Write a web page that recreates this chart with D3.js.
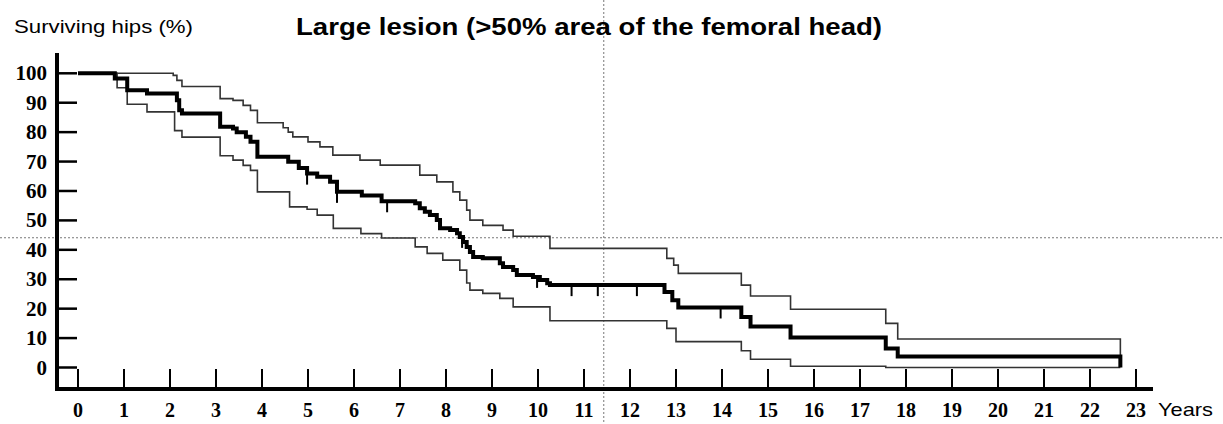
<!DOCTYPE html>
<html>
  <head>
    <meta charset="utf-8">
    <title>Large lesion survival</title>
    <script src="https://d3js.org/d3.v7.min.js"></script>
    <style>
      body { margin: 0; background: #fff; }
      svg { display: block; }
    </style>
  </head>
  <body>
    <div id="vis"></div>
    <script>
        const width = 1223;
        const height = 424;

        // Kaplan-Meier estimate (years, % surviving hips)
        const kmTime = [0, 0.8, 1.07, 1.5, 2.15, 2.2, 2.26, 3.09, 3.37, 3.45, 3.65, 3.75, 3.9, 4.57, 4.8, 4.98, 5.2, 5.48, 5.63, 6.17, 6.6, 7.33, 7.43, 7.54, 7.65, 7.8, 7.87, 8.09, 8.24, 8.3, 8.37, 8.45, 8.52, 8.59, 8.8, 9.17, 9.24, 9.46, 9.54, 9.89, 10.04, 10.2, 10.26, 12.75, 12.92, 13.05, 14.42, 14.62, 15.49, 17.56, 17.82, 22.66];
        const kmSurv = [100, 98.2, 94.2, 93.1, 90.8, 87.4, 86.3, 81.8, 81.2, 80, 78.4, 76.7, 71.6, 69.9, 67.8, 65.9, 64.8, 63.1, 59.7, 58.5, 56.5, 55.8, 54.1, 52.9, 51.8, 50.1, 47.3, 46.7, 45.6, 44.4, 42.7, 41, 39.3, 37.6, 37.1, 35.4, 34.2, 33.1, 31.4, 30.8, 29.7, 28.6, 28, 25.7, 22.9, 20.4, 17.2, 13.9, 10.2, 6.5, 3.7, 0];

        // upper confidence limit
        const upTime = [0, 2.07, 2.15, 2.26, 3.09, 3.37, 3.59, 3.75, 3.9, 4.46, 4.57, 4.67, 5.0, 5.26, 5.54, 6.13, 6.57, 7.43, 7.8, 8.15, 8.3, 8.45, 8.52, 8.8, 9.24, 9.46, 10.26, 12.8, 12.95, 13.05, 14.42, 14.62, 15.49, 17.56, 17.82, 22.66];
        const upSurv = [100, 99.3, 97.6, 95.5, 91.4, 90.8, 89.1, 87.4, 83.2, 81.5, 80, 78.4, 76.7, 75, 72.2, 70.5, 68.8, 65.4, 63.1, 59.7, 56.9, 53.5, 50.1, 48.3, 46.7, 44.6, 40.5, 37.1, 34.8, 32, 28, 24.3, 19.8, 15, 9.7, 3.7];

        // lower confidence limit
        const loTime = [0, 0.85, 1.07, 1.5, 2.1, 2.26, 3.09, 3.37, 3.59, 3.75, 3.9, 4.6, 4.98, 5.2, 5.55, 6.15, 6.6, 7.33, 7.59, 7.93, 8.3, 8.45, 8.52, 8.8, 9.17, 9.46, 10.26, 12.8, 13.0, 14.42, 14.62, 15.49, 17.56, 22.66];
        const loSurv = [100, 95.1, 89.5, 86.9, 80.5, 78.3, 72, 70.5, 68.7, 67, 59.7, 54.6, 53.8, 51.8, 47.3, 45.5, 44, 41, 38.8, 36.5, 33.1, 28.7, 26.3, 25.2, 23.5, 20.6, 15.9, 13.3, 8.8, 5.7, 2.8, 0.4, 0, 0];

        // censored observations on the estimate
        const censorTime = [4.98, 5.63, 6.72, 8.35, 9.98, 10.73, 11.3, 12.15, 13.97];

        const yTicks = [0, 10, 20, 30, 40, 50, 60, 70, 80, 90, 100];
        const xTicks = d3.range(0, 24);

        // reference cross-hair (years, %)
        const crossX = 11.43;
        const crossY = 44.1;

        const x = d3.scaleLinear().domain([0, 23]).range([78, 1136]);
        const y = d3.scaleLinear().domain([0, 100]).range([367.5, 73.3]);

        const vis = d3.select("#vis")
                      .append("svg")
                      .attr("width", width)
                      .attr("height", height);

        // dotted cross-hair
        vis.append("line")
           .attr("x1", 0).attr("x2", width)
           .attr("y1", y(crossY)).attr("y2", y(crossY))
           .attr("stroke", "#777").attr("stroke-width", 1)
           .attr("stroke-dasharray", "2,2");
        vis.append("line")
           .attr("x1", x(crossX)).attr("x2", x(crossX))
           .attr("y1", 0).attr("y2", height)
           .attr("stroke", "#777").attr("stroke-width", 1)
           .attr("stroke-dasharray", "2,2");

        // axes lines
        vis.append("line")
           .attr("x1", 57).attr("x2", 57)
           .attr("y1", 53).attr("y2", 391)
           .attr("stroke", "#000").attr("stroke-width", 4);
        vis.append("line")
           .attr("x1", 55).attr("x2", 1153)
           .attr("y1", 389).attr("y2", 389)
           .attr("stroke", "#000").attr("stroke-width", 4);

        // y ticks + labels
        vis.append("g")
           .selectAll("line")
           .data(yTicks)
           .enter()
           .append("line")
           .attr("x1", 57).attr("x2", 77)
           .attr("y1", d => y(d)).attr("y2", d => y(d))
           .attr("stroke", "#000").attr("stroke-width", 2.5);

        vis.append("g")
           .selectAll("text")
           .data(yTicks)
           .enter()
           .append("text")
           .attr("x", 47)
           .attr("y", d => y(d) + 7)
           .attr("text-anchor", "end")
           .attr("font-family", "Liberation Serif, Times New Roman, serif")
           .attr("font-weight", "bold")
           .attr("font-size", 21)
           .text(d => d);

        // x ticks + labels
        vis.append("g")
           .selectAll("line")
           .data(xTicks)
           .enter()
           .append("line")
           .attr("x1", d => x(d)).attr("x2", d => x(d))
           .attr("y1", 369).attr("y2", 389)
           .attr("stroke", "#000").attr("stroke-width", 2);

        vis.append("g")
           .selectAll("text")
           .data(xTicks)
           .enter()
           .append("text")
           .attr("x", d => x(d))
           .attr("y", 417)
           .attr("text-anchor", "middle")
           .attr("font-family", "Liberation Serif, Times New Roman, serif")
           .attr("font-weight", "bold")
           .attr("font-size", 20)
           .text(d => d);

        // step curves
        const step = d3.line()
                       .x(d => x(d[0]))
                       .y(d => y(d[1]))
                       .curve(d3.curveStepAfter);

        const zip = (a, b) => a.map((t, i) => [t, b[i]]);

        vis.append("path")
           .attr("d", step(zip(upTime, upSurv)))
           .attr("fill", "none").attr("stroke", "#333").attr("stroke-width", 1.6);
        vis.append("path")
           .attr("d", step(zip(loTime, loSurv)))
           .attr("fill", "none").attr("stroke", "#333").attr("stroke-width", 1.6);
        vis.append("path")
           .attr("d", step(zip(kmTime, kmSurv)))
           .attr("fill", "none").attr("stroke", "#000").attr("stroke-width", 4);

        // censor marks hang below the estimate
        const bis = d3.bisector(d => d).right;
        function survAt(t) {
          return kmSurv[Math.max(0, bis(kmTime, t) - 1)];
        }
        vis.append("g")
           .selectAll("line")
           .data(censorTime)
           .enter()
           .append("line")
           .attr("x1", d => x(d)).attr("x2", d => x(d))
           .attr("y1", d => y(survAt(d)))
           .attr("y2", d => y(survAt(d)) + 11)
           .attr("stroke", "#000").attr("stroke-width", 2);

        // titles
        vis.append("text")
           .attr("x", 14).attr("y", 33)
           .attr("font-family", "Liberation Sans, Arial, sans-serif")
           .attr("font-size", 18)
           .attr("textLength", 179).attr("lengthAdjust", "spacingAndGlyphs")
           .text("Surviving hips (%)");

        vis.append("text")
           .attr("x", 296).attr("y", 35)
           .attr("font-family", "Liberation Sans, Arial, sans-serif")
           .attr("font-weight", "bold")
           .attr("font-size", 24)
           .attr("textLength", 586).attr("lengthAdjust", "spacingAndGlyphs")
           .text("Large lesion (>50% area of the femoral head)");

        vis.append("text")
           .attr("x", 1158).attr("y", 416)
           .attr("font-family", "Liberation Sans, Arial, sans-serif")
           .attr("font-size", 19)
           .attr("textLength", 55).attr("lengthAdjust", "spacingAndGlyphs")
           .text("Years");
    </script>
  </body>
</html>
